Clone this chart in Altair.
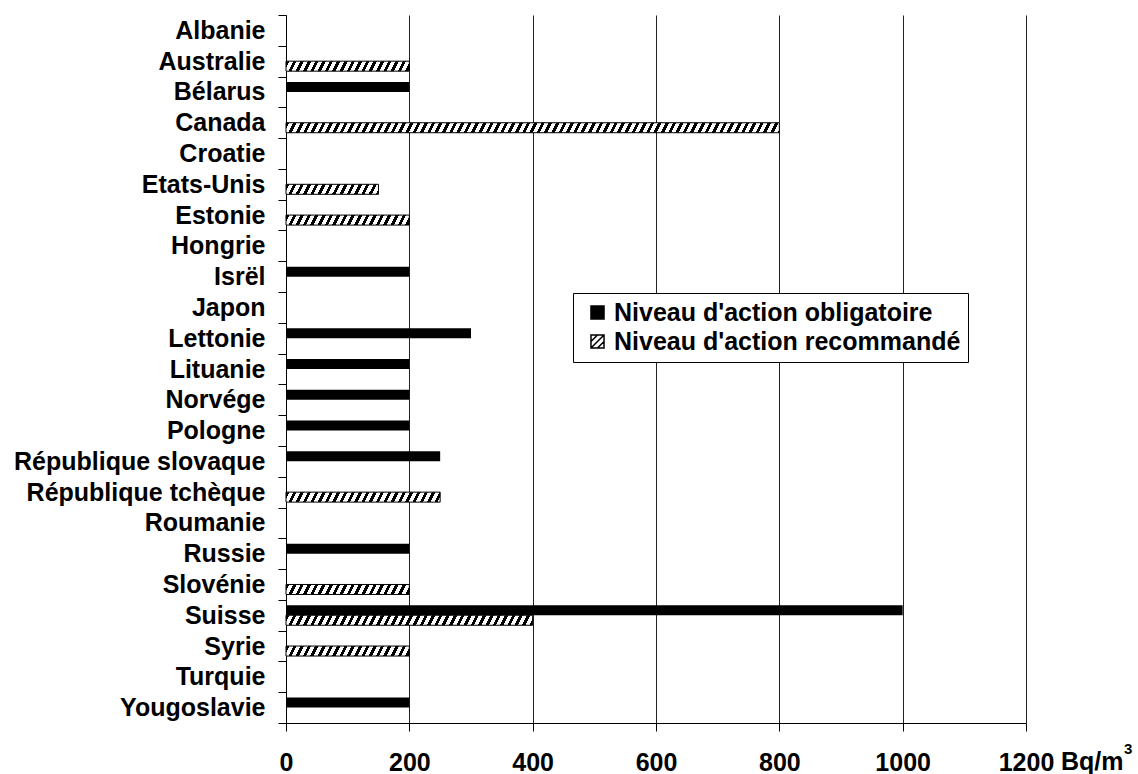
import altair as alt
import pandas as pd

# ---------------- data ----------------
pays = ["Albanie", "Australie", "Bélarus", "Canada", "Croatie", "Etats-Unis",
        "Estonie", "Hongrie", "Isrël", "Japon", "Lettonie", "Lituanie",
        "Norvége", "Pologne", "République slovaque", "République tchèque",
        "Roumanie", "Russie", "Slovénie", "Suisse", "Syrie", "Turquie",
        "Yougoslavie"]
obligatoire = [None, None, 200, None, None, None, None, None, 200, None, 300, 200,
               200, 200, 250, None, None, 200, None, 1000, None, None, 200]
recommande = [None, 200, None, 800, None, 150, 200, None, None, None, None, None,
              None, None, None, 250, None, None, 200, 400, 200, None, None]
series = ["Niveau d'action obligatoire", "Niveau d'action recommandé"]
x_ticks = [0, 200, 400, 600, 800, 1000, 1200]
unit_label = "Bq/m"
unit_exp = "3"

rows = []
for p, a, b in zip(pays, obligatoire, recommande):
    if a is not None:
        rows.append({"pays": p, "serie": series[0], "valeur": a})
    if b is not None:
        rows.append({"pays": p, "serie": series[1], "valeur": b})
df = pd.DataFrame(rows)

# ---------------- geometry / style ----------------
W, H = 740, 708
X_MAX = 1200
FONT = "Liberation Sans"
FS = 25


def hatch_fill(v, shift=5.0, period=7.3, frac=0.45):
    w = v * W / X_MAX
    b = shift / w
    pt = period / ((1 + b) * w)
    stops = []
    k = 0
    while k * pt < 1:
        a0 = k * pt
        m = min(a0 + frac * pt, 1.0)
        e = min(a0 + pt, 1.0)
        stops += [{"offset": round(a0, 6), "color": "black"},
                  {"offset": round(m, 6), "color": "black"},
                  {"offset": round(m, 6), "color": "white"},
                  {"offset": round(e, 6), "color": "white"}]
        k += 1
    L = (1 + b) / (1 + b * b)
    return {"gradient": "linear", "x1": 0, "y1": 0, "x2": L, "y2": L * b, "stops": stops}


x_enc = alt.X("valeur:Q",
              scale=alt.Scale(domain=[0, X_MAX], nice=False, zero=True),
              axis=alt.Axis(values=x_ticks, format="d", title=None, grid=True,
                            gridColor="#222", gridWidth=1, domainColor="black",
                            tickColor="black", tickSize=8, labelPadding=19,
                            labelFont=FONT, labelFontSize=FS, labelFontWeight="bold",
                            labelColor="black", labelFlush=False))
y_enc = alt.Y("pays:N", sort=pays,
              scale=alt.Scale(domain=pays, paddingInner=0, paddingOuter=0),
              axis=alt.Axis(title=None, tickBand="extent", domainColor="black",
                            tickColor="black", tickSize=8, labelPadding=13,
                            labelLimit=400, labelFont=FONT, labelFontSize=FS,
                            labelFontWeight="bold", labelColor="black", grid=False))
yoff = alt.YOffset("serie:N", scale=alt.Scale(domain=series, paddingInner=0, paddingOuter=0.54))

base = alt.Chart(df)

black_bars = base.transform_filter(
    alt.datum.serie == series[0]
).mark_bar(fill="black").encode(x=x_enc, y=y_enc, yOffset=yoff)

hatch_layers = []
for v in sorted(set(x for x in recommande if x is not None)):
    hatch_layers.append(
        base.transform_filter(
            (alt.datum.serie == series[1]) & (alt.datum.valeur == v)
        ).mark_bar(fill=hatch_fill(v), stroke="black", strokeWidth=1).encode(
            x=x_enc, y=y_enc, yOffset=yoff)
    )

sq_path = "M-1,-1H1V1H-1Z"
hatch_path = "M-1,-1H1V1H-1Z M-1,0L0,-1 M-1,1L1,-1 M0,1L1,0"
leg = alt.Legend(orient="none", legendX=287, legendY=278, fillColor="white",
                 strokeColor="black", padding=7, labelFont=FONT, labelFontSize=FS,
                 labelFontWeight="bold", labelColor="black", symbolOffset=5,
                 labelOffset=4, rowPadding=3, symbolSize=170,
                 symbolStrokeWidth=1.5, symbolOpacity=1, labelLimit=600)

legend_points = base.mark_point(filled=True, opacity=0).encode(
    x=x_enc, y=y_enc, yOffset=yoff,
    fill=alt.Fill("serie:N", title=None, legend=leg,
                  scale=alt.Scale(domain=series, range=["black", "white"])),
    stroke=alt.Stroke("serie:N", title=None, legend=leg,
                      scale=alt.Scale(domain=series, range=["black", "black"])),
    shape=alt.Shape("serie:N", title=None, legend=leg,
                    scale=alt.Scale(domain=series, range=[sq_path, hatch_path])),
)

unit_text = alt.Chart(pd.DataFrame({"u": [unit_label]})).mark_text(
    align="left", baseline="top", font=FONT, fontSize=FS, fontWeight="bold",
    color="black", dx=35
).encode(x=alt.datum(X_MAX), y=alt.value(H + 8 + 19), text="u:N")

exp_text = alt.Chart(pd.DataFrame({"u": [unit_exp]})).mark_text(
    align="left", baseline="top", font=FONT, fontSize=15, fontWeight="bold",
    color="black", dx=98
).encode(x=alt.datum(X_MAX), y=alt.value(H + 8 + 11), text="u:N")

chart = alt.layer(black_bars, *hatch_layers, legend_points, unit_text, exp_text).properties(
    width=W, height=H,
    autosize=alt.AutoSizeParams(type="none"),
    padding={"left": 286, "top": 15, "right": 112, "bottom": 51},
    background="white",
).configure_view(strokeWidth=0)

chart.save("out.html", embed_options={"renderer": "svg", "actions": False})
